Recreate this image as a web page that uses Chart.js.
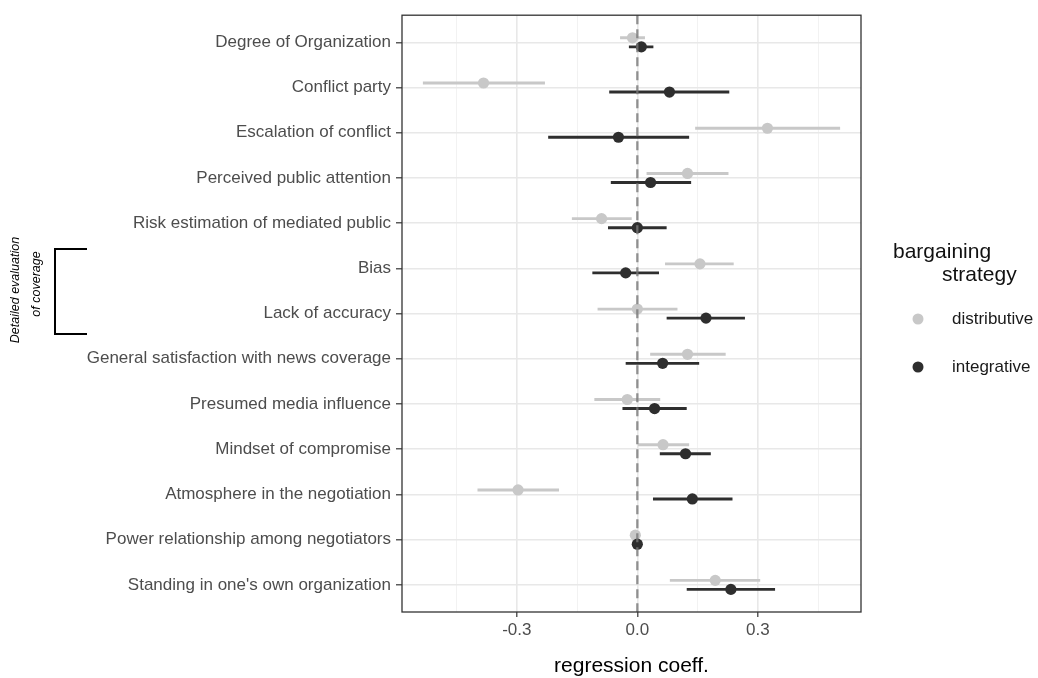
<!DOCTYPE html>
<html><head><meta charset="utf-8">
<script src="https://cdn.jsdelivr.net/npm/chart.js@4"></script>
<style>html,body{margin:0;padding:0;background:#fff;} canvas{display:block}</style>
</head><body>
<canvas id="c" width="1038" height="678"></canvas>
<script>
const categories = ["Degree of Organization", "Conflict party", "Escalation of conflict", "Perceived public attention", "Risk estimation of mediated public", "Bias", "Lack of accuracy", "General satisfaction with news coverage", "Presumed media influence", "Mindset of compromise", "Atmosphere in the negotiation", "Power relationship among negotiators", "Standing in one's own organization"];
const distEst = [-0.012, -0.383, 0.324, 0.125, -0.089, 0.156, 0.000, 0.125, -0.025, 0.064, -0.297, -0.005, 0.194];
const distLo  = [-0.043, -0.534, 0.144, 0.023, -0.163, 0.069, -0.099, 0.032, -0.107, 0.002, -0.398, -0.010, 0.081];
const distHi  = [0.019, -0.230, 0.505, 0.227, -0.014, 0.240, 0.100, 0.220, 0.057, 0.129, -0.195, 0.000, 0.306];
const intEst  = [0.010, 0.080, -0.047, 0.033, 0.000, -0.029, 0.171, 0.063, 0.043, 0.120, 0.137, 0.000, 0.233];
const intLo   = [-0.021, -0.070, -0.222, -0.066, -0.073, -0.112, 0.073, -0.029, -0.037, 0.056, 0.039, -0.004, 0.123];
const intHi   = [0.040, 0.229, 0.129, 0.134, 0.073, 0.054, 0.268, 0.154, 0.123, 0.183, 0.237, 0.004, 0.343];
const xTicks = [-0.45, -0.3, -0.15, 0, 0.15, 0.3, 0.45];
const xTickLabels = ["", "-0.3", "", "0.0", "", "0.3", ""];
const seriesNames = ["distributive", "integrative"];
const legendTitle = ["bargaining", "strategy"];
const xTitle = "regression coeff.";
const bracketText = ["Detailed evaluation", "of coverage"];
const bracketRows = ["Bias", "Lack of accuracy"];

const FONT = "'Liberation Sans', Arial, sans-serif";
const DODGE = 0.1;
const colors = ['#c8c8c8', '#2e2e2e'];
const series = [
  {name: seriesNames[0], est: distEst, lo: distLo, hi: distHi, off: -DODGE, color: colors[0], order: 1},
  {name: seriesNames[1], est: intEst, lo: intLo, hi: intHi, off: DODGE, color: colors[1], order: 0}
];
const majorIdx = i => xTickLabels[i] !== "";

const errorBars = {
  id: 'errorBars',
  beforeDatasetDraw(chart, args) {
    const ds = chart.data.datasets[args.index];
    const xs = chart.scales.x, ys = chart.scales.y, ctx = chart.ctx, a = chart.chartArea;
    ctx.save();
    ctx.beginPath(); ctx.rect(a.left, a.top, a.right - a.left, a.bottom - a.top); ctx.clip();
    ctx.strokeStyle = ds.borderColor; ctx.lineWidth = 2.9; ctx.lineCap = 'butt';
    ds.data.forEach((p, i) => {
      const y = ys.getPixelForValue(p.y);
      ctx.beginPath();
      ctx.moveTo(xs.getPixelForValue(ds.lo[i]), y);
      ctx.lineTo(xs.getPixelForValue(ds.hi[i]), y);
      ctx.stroke();
    });
    ctx.restore();
  },
  afterDatasetsDraw(chart) {
    const xs = chart.scales.x, ctx = chart.ctx, a = chart.chartArea;
    const x0 = xs.getPixelForValue(0);
    ctx.save();
    ctx.strokeStyle = 'rgba(120,120,120,0.8)'; ctx.lineWidth = 2.3; ctx.setLineDash([9, 5]);
    ctx.beginPath(); ctx.moveTo(x0, a.top); ctx.lineTo(x0, a.bottom); ctx.stroke();
    ctx.setLineDash([]);
    ctx.strokeStyle = '#333'; ctx.lineWidth = 1.3;
    ctx.strokeRect(a.left, a.top, a.right - a.left, a.bottom - a.top);
    ctx.restore();
  },
  afterDraw(chart) {
    const ctx = chart.ctx, ys = chart.scales.y;
    ctx.save();
    // legend
    ctx.fillStyle = '#111'; ctx.textBaseline = 'middle'; ctx.textAlign = 'left';
    ctx.font = '21px ' + FONT;
    ctx.fillText(legendTitle[0], 893, 252);
    ctx.fillText(legendTitle[1], 942, 275);
    ctx.font = '17px ' + FONT;
    series.forEach((s, k) => {
      const y = 319 + k * 48;
      ctx.fillStyle = s.color;
      ctx.beginPath(); ctx.arc(918, y, 5.5, 0, Math.PI * 2); ctx.fill();
      ctx.fillStyle = '#1a1a1a';
      ctx.fillText(s.name, 952, y);
    });
    // bracket
    const i0 = categories.indexOf(bracketRows[0]) + 1, i1 = categories.indexOf(bracketRows[1]) + 1;
    const yTop = ys.getPixelForValue(i0 - 0.43), yBot = ys.getPixelForValue(i1 + 0.45);
    ctx.strokeStyle = '#000'; ctx.lineWidth = 2;
    ctx.beginPath();
    ctx.moveTo(87, yTop); ctx.lineTo(55, yTop); ctx.lineTo(55, yBot); ctx.lineTo(87, yBot);
    ctx.stroke();
    ctx.fillStyle = '#000'; ctx.font = 'italic 12.5px ' + FONT; ctx.textAlign = 'center';
    ctx.save(); ctx.translate(16, 290); ctx.rotate(-Math.PI / 2); ctx.fillText(bracketText[0], 0, 0); ctx.restore();
    ctx.save(); ctx.translate(37, 284); ctx.rotate(-Math.PI / 2); ctx.fillText(bracketText[1], 0, 0); ctx.restore();
    ctx.restore();
  }
};

new Chart(document.getElementById('c'), {
  type: 'scatter',
  data: {
    datasets: series.map(s => ({
      label: s.name,
      data: categories.map((c, i) => ({x: s.est[i], y: i + 1 + s.off})),
      lo: s.lo, hi: s.hi,
      backgroundColor: s.color, borderColor: s.color,
      pointRadius: 5.6, pointHoverRadius: 5.6, pointBorderWidth: 0,
      order: s.order
    }))
  },
  options: {
    responsive: false, animation: false, devicePixelRatio: 1, events: [],
    layout: {padding: {top: 15, right: 177, bottom: 0, left: 0}},
    plugins: {legend: {display: false}, tooltip: {enabled: false}},
    scales: {
      x: {
        type: 'linear', min: -0.586, max: 0.557,
        afterBuildTicks: s => { s.ticks = xTicks.map(v => ({value: v})); },
        afterFit: s => { s.height = 66; },
        border: {display: false},
        grid: {
          color: c => majorIdx(c.index) ? '#e8e8e8' : '#f2f2f2',
          lineWidth: c => majorIdx(c.index) ? 1.6 : 1,
          tickLength: 5,
          tickColor: c => majorIdx(c.index) ? '#333' : 'rgba(0,0,0,0)',
          tickWidth: 1.2
        },
        ticks: {
          autoSkip: false, maxRotation: 0, padding: 3, color: '#4d4d4d',
          font: {family: FONT, size: 17},
          callback: (v, i) => xTickLabels[i]
        },
        title: {display: true, text: xTitle, color: '#000', font: {family: FONT, size: 21, lineHeight: 1}, padding: {top: 0, bottom: 1}}
      },
      y: {
        type: 'linear', min: 0.4, max: 13.6, reverse: true,
        afterBuildTicks: s => { s.ticks = categories.map((c, i) => ({value: i + 1})); },
        afterFit: s => { s.width = 402; },
        border: {display: false},
        grid: {color: '#e8e8e8', lineWidth: 1.6, tickLength: 6, tickColor: '#333', tickWidth: 1.2},
        ticks: {
          autoSkip: false, padding: 5, color: '#4d4d4d',
          font: {family: FONT, size: 17},
          callback: (v, i) => categories[i]
        }
      }
    }
  },
  plugins: [errorBars]
});
</script>
</body></html>
